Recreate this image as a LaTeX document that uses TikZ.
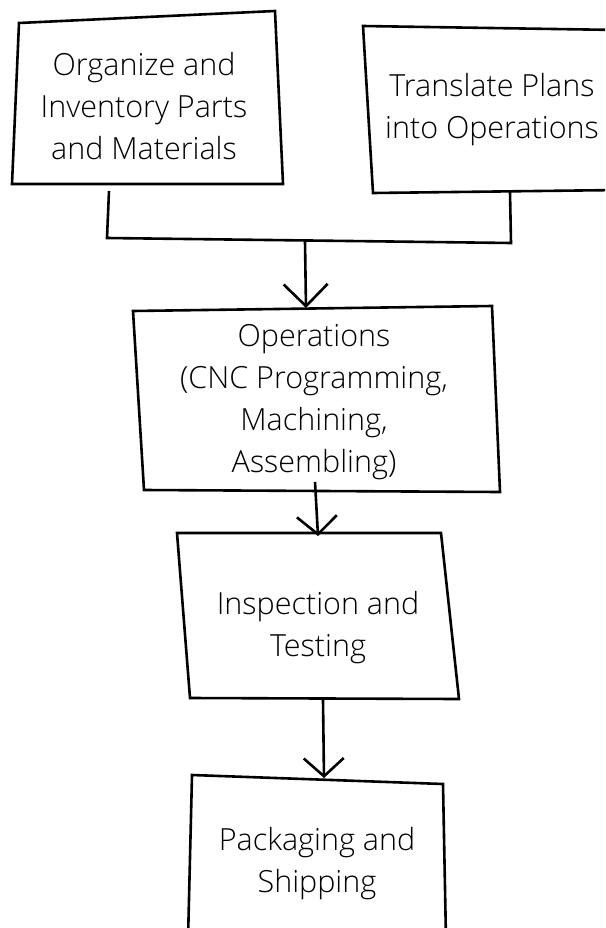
\documentclass[tikz,border=0pt]{standalone}
\usepackage{fontspec}
\setmainfont{Open Sans}[UprightFont=* Light]
\usetikzlibrary{arrows.meta}
\begin{document}
\begin{tikzpicture}[x=1pt,y=-1pt,
  sketch/.style={draw=black, line width=2.6pt, line join=miter},
  caption/.style={align=center, font=\fontsize{30.5}{42}\selectfont, inner sep=0pt},
  wire/.style={draw=black, line width=2.6pt},
  flow/.style={wire, -{Straight Barb[length=18pt,width=40pt]}},
  bigflow/.style={wire, -{Straight Barb[length=22pt,width=44pt]}}]
\useasboundingbox (0,0) rectangle (605,928);
\fill[white] (0,0) rectangle (605,928);
\begin{scope}
\clip (0,0) rectangle (605,928);

% box corners (slightly skewed, hand-drawn look)
\coordinate (org-tl) at (19,23);   \coordinate (org-tr) at (275,11);
\coordinate (org-br) at (283,184); \coordinate (org-bl) at (12,184);
\coordinate (pln-tl) at (363,26);  \coordinate (pln-tr) at (618,30);
\coordinate (pln-br) at (620,190); \coordinate (pln-bl) at (373,193);
\coordinate (ops-tl) at (133,311); \coordinate (ops-tr) at (492,306);
\coordinate (ops-br) at (500,492); \coordinate (ops-bl) at (144,490);
\coordinate (ins-tl) at (177,533); \coordinate (ins-tr) at (441,533);
\coordinate (ins-br) at (459,699); \coordinate (ins-bl) at (190,698);
\coordinate (pck-tl) at (192,775); \coordinate (pck-tr) at (443,784);
\coordinate (pck-br) at (446,940); \coordinate (pck-bl) at (188,940);

\draw[sketch] (org-tl) -- (org-tr) -- (org-br) -- (org-bl) -- cycle;
\draw[sketch] (pln-tl) -- (pln-tr) -- (pln-br) -- (pln-bl) -- cycle;
\draw[sketch] (ops-tl) -- (ops-tr) -- (ops-br) -- (ops-bl) -- cycle;
\draw[sketch] (ins-tl) -- (ins-tr) -- (ins-br) -- (ins-bl) -- cycle;
\draw[sketch] (pck-tl) -- (pck-tr) -- (pck-br) -- (pck-bl) -- cycle;

% box texts
\node[caption] (org) at (144,106) {Organize and\\Inventory Parts\\and Materials};
\node[caption] (pln) at (492,110) {Translate Plans\\into Operations};
\node[caption] (ops) at (314,402) {Operations\\(CNC Programming,\\Machining,\\Assembling)};
\node[caption] (ins) at (318,628) {Inspection and\\Testing};
\node[caption] (pck) at (317,864) {Packaging and\\Shipping};

% connector ends
\coordinate (org-out) at (109,191);
\coordinate (pln-out) at (510,192);
\coordinate (join-l)  at (107,238);
\coordinate (join-r)  at (511,243);
\coordinate (join-m)  at (305,241);
\coordinate (ops-in)  at (306,308);
\coordinate (ops-out) at (315,482);
\coordinate (ins-in)  at (318,536);
\coordinate (ins-out) at (323,700);
\coordinate (pck-in)  at (324,778);

% merge of the two inputs
\draw[wire] (org-out) -- (join-l) -- (join-r) -- (pln-out);
\draw[bigflow] (join-m) -- (ops-in);
\draw[flow] (ops-out) -- (ins-in);
\draw[flow] (ins-out) -- (pck-in);
\end{scope}
\end{tikzpicture}
\end{document}
